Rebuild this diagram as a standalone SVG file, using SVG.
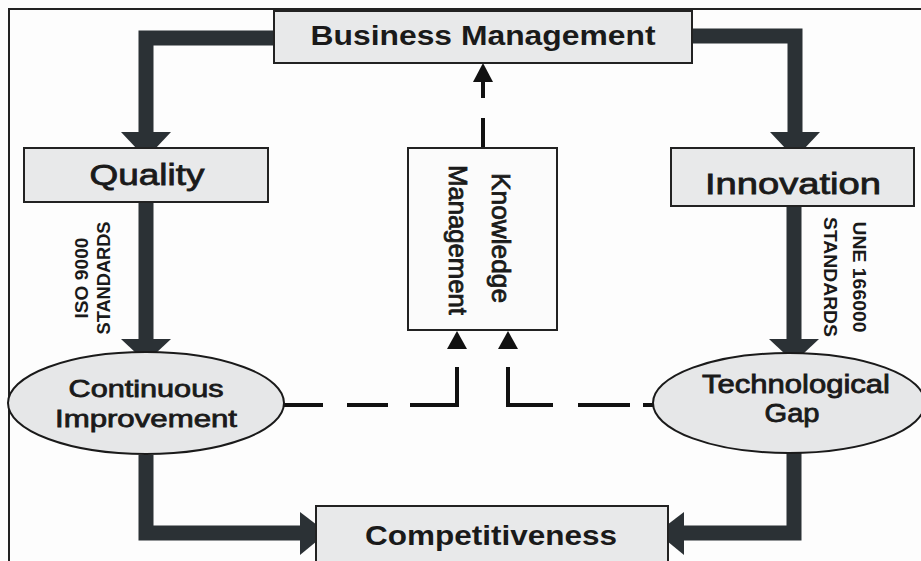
<svg xmlns="http://www.w3.org/2000/svg" width="921" height="561" viewBox="0 0 921 561">
<style>
.box{fill:#e8e9ea;stroke:#222;stroke-width:2}
.kbox{fill:#fbfbfb;stroke:#222;stroke-width:2}
.ell{fill:#e6e7e8;stroke:#1a1a1a;stroke-width:2}
.thick{fill:none;stroke:#2b3135;stroke-width:15;stroke-linejoin:miter}
.head{fill:#2b3135}
.dash{fill:none;stroke:#111;stroke-width:4}
.dhead{fill:#111}
text{font-family:"Liberation Sans",Arial,sans-serif;fill:#1a1a1a;text-anchor:middle}
.b{font-weight:bold}
.m{stroke:#1a1a1a;stroke-width:0.8}
</style>
<rect width="921" height="561" fill="#fdfdfd"/>
<path d="M9,561 V9 H921" fill="none" stroke="#222" stroke-width="2"/>
<g id="connectors">
<path class="thick" d="M275,38 H146 V134"/>
<polygon class="head" points="121,132 171,132 155,149 137,149"/>
<path class="thick" d="M691,36 H795 V134"/>
<polygon class="head" points="770,132 820,132 804,149 786,149"/>
<path class="thick" d="M146,202 V341"/>
<polygon class="head" points="121,339 171,339 155,354 137,354"/>
<path class="thick" d="M794,206 V341"/>
<polygon class="head" points="769,339 819,339 803,354 785,354"/>
<path class="thick" d="M146,455 V533 H302"/>
<polygon class="head" points="300,512 300,555 317,541 317,525"/>
<path class="thick" d="M794,453 V533 H682"/>
<polygon class="head" points="684,512 684,555 667,541 667,525"/>
<path class="dash" d="M483,148 V118 M483,98 V80"/>
<polygon class="dhead" points="473,82 493,82 483,63"/>
<path class="dash" d="M284,405 H323 M347,405 H388 M410,405 H457 V367"/>
<polygon class="dhead" points="447,349 467,349 457,331"/>
<path class="dash" d="M653,405 H643 M630,405 H578 M553,405 H508 V367"/>
<polygon class="dhead" points="498,349 518,349 508,331"/>
</g>
<g id="business-management">
<rect class="box" x="274" y="11" width="418" height="52"/>
<text class="b" x="483" y="45" font-size="28" textLength="345" lengthAdjust="spacingAndGlyphs">Business Management</text>
</g>
<g id="quality">
<rect class="box" x="24" y="148" width="244" height="54"/>
<text class="m" x="147" y="185" font-size="30" textLength="115" lengthAdjust="spacingAndGlyphs">Quality</text>
</g>
<g id="innovation">
<rect class="box" x="671" y="148" width="243" height="58"/>
<text class="m" x="793" y="194" font-size="29" textLength="176" lengthAdjust="spacingAndGlyphs">Innovation</text>
</g>
<g id="knowledge-management">
<rect class="kbox" x="408" y="148" width="149" height="182"/>
<text class="m" transform="translate(492,238) rotate(90)" font-size="25" textLength="130" lengthAdjust="spacingAndGlyphs">Knowledge</text>
<text class="m" transform="translate(449,240) rotate(90)" font-size="25" textLength="150" lengthAdjust="spacingAndGlyphs">Management</text>
</g>
<g id="iso-label">
<text class="b" transform="translate(88,278) rotate(-90)" font-size="18" textLength="81" lengthAdjust="spacingAndGlyphs">ISO 9000</text>
<text class="b" transform="translate(110,278) rotate(-90)" font-size="18" textLength="113" lengthAdjust="spacingAndGlyphs">STANDARDS</text>
</g>
<g id="une-label">
<text class="b" transform="translate(853,277) rotate(90)" font-size="19" textLength="111" lengthAdjust="spacingAndGlyphs">UNE 166000</text>
<text class="b" transform="translate(824,277) rotate(90)" font-size="19" textLength="120" lengthAdjust="spacingAndGlyphs">STANDARDS</text>
</g>
<g id="continuous-improvement">
<ellipse class="ell" cx="146" cy="403" rx="138" ry="51"/>
<text class="m" x="146" y="397" font-size="24" textLength="155" lengthAdjust="spacingAndGlyphs">Continuous</text>
<text class="m" x="146" y="427" font-size="24" textLength="182" lengthAdjust="spacingAndGlyphs">Improvement</text>
</g>
<g id="technological-gap">
<ellipse class="ell" cx="789" cy="403" rx="136" ry="50"/>
<text class="m" x="796" y="393" font-size="25" textLength="188" lengthAdjust="spacingAndGlyphs">Technological</text>
<text class="m" x="792" y="422" font-size="25" textLength="55" lengthAdjust="spacingAndGlyphs">Gap</text>
</g>
<g id="competitiveness">
<rect class="box" x="316" y="506" width="352" height="60"/>
<text class="b" x="491" y="545" font-size="28" textLength="252" lengthAdjust="spacingAndGlyphs">Competitiveness</text>
</g>
</svg>
